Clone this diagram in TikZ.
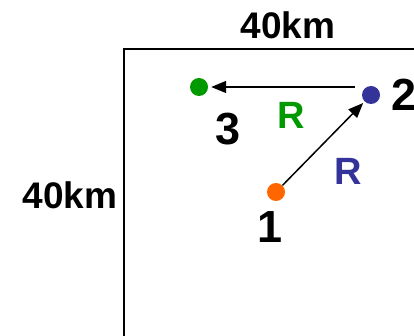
\documentclass[tikz,border=0pt]{standalone}
\usepackage{fontspec}
\setmainfont{Liberation Sans}
\usetikzlibrary{arrows.meta,positioning}

\tikzset{
    dot/.style={circle, inner sep=0pt, minimum size=18pt},
    lbl/.style={inner sep=0pt, font=\fontsize{37}{40}\selectfont\bfseries},
    num/.style={inner sep=0pt, font=\fontsize{45}{50}\selectfont\bfseries},
    rlbl/.style={inner sep=0pt, font=\fontsize{38}{42}\selectfont\bfseries},
    hop/.style={-{Triangle[length=15pt,width=12pt]}, line width=1.5pt}
}
\definecolor{dotgreen}{RGB}{0,153,0}
\definecolor{dotblue}{RGB}{51,51,153}
\definecolor{dotorange}{RGB}{255,102,0}

\begin{document}
\begin{tikzpicture}[x=1pt, y=-1pt]
    \useasboundingbox (0,0) rectangle (414,336);
    \clip (0,0) rectangle (414,336);

    % Area
    \draw[line width=1.8pt] (124,340) -- (124,49) -- (420,49);
    \node[lbl] (top) at (288,25) {40km};
    \node[lbl] (side) at (70,195) {40km};

    % Points
    \node[dot, fill=dotorange] (p1) at (276,192) {};
    \node[dot, fill=dotblue] (p2) at (371,95) {};
    \node[dot, fill=dotgreen] (p3) at (199,87) {};

    % Hops
    \draw[hop, shorten >=2pt] (p1) -- (p2);
    \draw[hop, shorten >=3pt] ([xshift=-7pt]p2.west |- p3) -- (p3);

    % Labels
    \node[num] (n1) at (270,227) {1};
    \node[num, right=11pt of p2] (n2) {2};
    \node[num] (n3) at (228,129) {3};
    \node[rlbl, text=dotgreen] (r32) at (291,115) {R};
    \node[rlbl, text=dotblue] (r12) at (348,171) {R};
\end{tikzpicture}
\end{document}
